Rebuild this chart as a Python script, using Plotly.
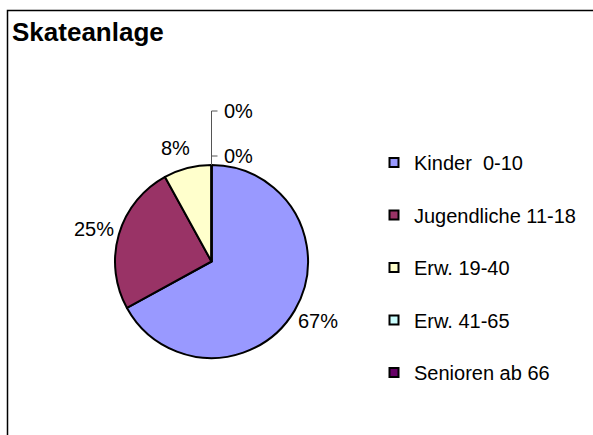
import math
import plotly.graph_objects as go

# ---- data ----
categories = ["Kinder  0-10", "Jugendliche 11-18", "Erw. 19-40", "Erw. 41-65", "Senioren ab 66"]
values = [67, 25, 8, 0, 0]
colors = ["#9999FF", "#993366", "#FFFFCC", "#CCFFFF", "#660066"]
title_text = "Skateanlage"

# ---- layout constants (pixels, page coordinates) ----
W, H = 593, 435
CX, CY, R = 211.5, 261.5, 96.5
FONT = "Liberation Sans, Arial, sans-serif"


def px_x(x):
    return x / W


def px_y(y):
    return 1 - y / H


fig = go.Figure()

fig.add_trace(go.Pie(
    labels=categories,
    values=values,
    sort=False,
    direction="clockwise",
    rotation=0,
    textinfo="none",
    marker=dict(colors=colors, line=dict(color="black", width=2)),
    domain=dict(x=[px_x(CX - R), px_x(CX + R)], y=[px_y(CY + R), px_y(CY - R)]),
    showlegend=False,
    hoverinfo="label+percent",
))

# legend entries (one per category)
for i, (cat, col) in enumerate(zip(categories, colors)):
    fig.add_trace(go.Scatter(
        x=[None], y=[None], mode="markers",
        name=cat.replace(" ", "\u00a0"),
        marker=dict(symbol="square", size=9, color=col, line=dict(color="black", width=2)),
        legendgroup=f"g{i}",
        showlegend=True,
        hoverinfo="skip",
    ))

annotations = []
shapes = []

# percentage labels
total = sum(values)
cum = 0.0
zero_idx = []
for i, v in enumerate(values):
    pct = round(100 * v / total)
    txt = f"{pct}%"
    if v == 0:
        zero_idx.append(i)
        cum += v
        continue
    mid = (cum + v / 2) / total * 2 * math.pi
    ux, uy = math.sin(mid), -math.cos(mid)
    w = 11 * len(txt) - 3
    h = 18
    dx = (R + 10) * ux + w / 2 * math.copysign(1, ux)
    dy = (R + 12) * uy + h / 2 * uy
    annotations.append(dict(
        x=px_x(CX + dx), y=px_y(CY + dy), xref="paper", yref="paper",
        text=txt, showarrow=False, xanchor="center", yanchor="middle",
        font=dict(family=FONT, size=20, color="black"),
    ))
    cum += v

# zero-value labels with leader line from the top of the pie
top = CY - R
label_ys = []
for k, i in enumerate(zero_idx):
    y = top - 9 - 45 * k
    label_ys.append(y)
    annotations.append(dict(
        x=px_x(CX + 10), y=px_y(y), xref="paper", yref="paper",
        text=f"{round(100 * values[i] / total)}%", showarrow=False,
        xanchor="left", yanchor="middle",
        font=dict(family=FONT, size=20, color="black"),
    ))
if label_ys:
    path = f"M{px_x(CX)},{px_y(top)} L{px_x(CX)},{px_y(min(label_ys))}"
    for y in label_ys:
        path += f" M{px_x(CX)},{px_y(y)} L{px_x(CX + 6)},{px_y(y)}"
    shapes.append(dict(type="path", xref="paper", yref="paper", path=path,
                       line=dict(color="#555555", width=1)))

# title
annotations.append(dict(
    x=px_x(10), y=px_y(32.5), xref="paper", yref="paper",
    text=f"<b>{title_text}</b>", showarrow=False, xanchor="left", yanchor="middle",
    font=dict(family=FONT, size=26, color="black"),
))

# chart border (top and left edges; the rest runs off the page)
bx, by = px_x(7.5), px_y(10.5)
shapes.append(dict(type="path", xref="paper", yref="paper",
                   path=f"M{bx},0 L{bx},{by} L1,{by}",
                   line=dict(color="black", width=1.5)))

fig.update_layout(
    width=W, height=H,
    margin=dict(l=0, r=0, t=0, b=0),
    paper_bgcolor="white", plot_bgcolor="white",
    xaxis=dict(visible=False), yaxis=dict(visible=False),
    showlegend=True,
    legend=dict(
        x=px_x(374), y=px_y(143), xanchor="left", yanchor="top",
        font=dict(family=FONT, size=20, color="black"),
        tracegroupgap=23.5, traceorder="grouped",
        bgcolor="rgba(0,0,0,0)", borderwidth=0,
    ),
    annotations=annotations,
    shapes=shapes,
)

fig.write_html(
    "out.html",
    config={"displayModeBar": False},
    post_script="document.body.style.margin='0';document.body.style.overflow='hidden';",
)
